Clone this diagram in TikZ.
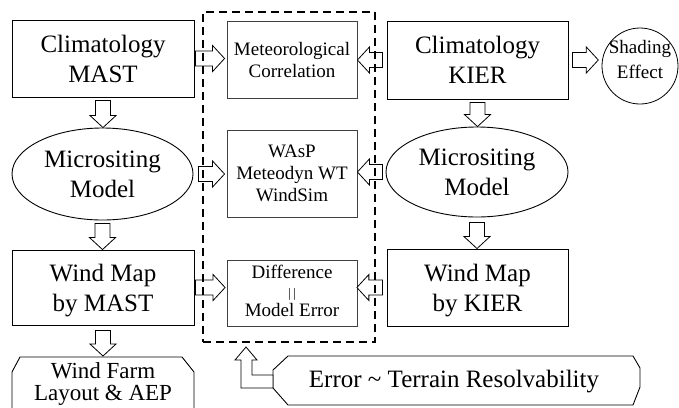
\documentclass[tikz,border=0pt]{standalone}
\usepackage{fontspec}
\setmainfont{Liberation Serif}
\usetikzlibrary{calc,shapes.geometric}
\tikzset{
  box/.style={draw, line width=0.9pt, inner sep=0pt, align=center},
  midbox/.style={box, draw=black!75},
  ell/.style={draw, ellipse, line width=0.9pt, inner sep=0pt, align=center},
  bigtxt/.style={font=\fontsize{25}{30}\selectfont},
  smalltxt/.style={font=\fontsize{19}{22}\selectfont},
  arr/.style={draw=black, fill=white, line width=0.8pt, line join=miter},
  grpbox/.style={draw, line width=2.4pt, dash pattern=on 8pt off 5pt, inner sep=0pt},
  outline/.style={draw, line width=0.9pt, line join=miter}
}
\newcommand{\barr}[3]{\draw[arr] let \p1=#1, \p2=#2, \n1={veclen(\x2-\x1,\y2-\y1)} in
  [shift={(\p1)}, rotate=#3] (0,-7.5) -- ({\n1-12},-7.5) -- ({\n1-12},-13) -- (\n1,0)
  -- ({\n1-12},13) -- ({\n1-12},7.5) -- (0,7.5) -- cycle;}
\begin{document}
\begin{tikzpicture}[x=1pt,y=-1pt]
\useasboundingbox (0,0) rectangle (679,407);
\clip (0,0) rectangle (679,407);
% left column
\node[box, bigtxt, minimum width=182, minimum height=77] (clmast) at (103,58.5) {Climatology\\MAST};
\node[ell, bigtxt, minimum width=181, minimum height=92] (mmast) at (102.5,174) {Micrositing\\Model};
\node[box, minimum width=182, minimum height=75] (wmmast) at (103,287.5) {};
\node[bigtxt, align=center] (wmmasttxt) at (103,291) {Wind Map\\by MAST};
\draw[outline] (12,420) -- (12,372) -- (20,357) -- (182,357) -- (194,372) -- (194,420);
\coordinate (wftop) at (103,356);
\node[align=center, font=\fontsize{23}{22}\selectfont] (wf) at (103,383.5) {Wind Farm\\Layout \& AEP};
% middle column
\node[midbox, smalltxt, minimum width=130, minimum height=77] (met) at (292,59.5) {Meteorological\\Correlation};
\node[midbox, smalltxt, minimum width=130, minimum height=87] (wasp) at (292,173.5) {WAsP\\Meteodyn WT\\WindSim};
\node[midbox, minimum width=130, minimum height=66] (diff) at (292,293) {};
\node[align=center, font=\fontsize{19}{19}\selectfont] (difftxt) at (292,291) {Difference\\{\fontsize{13}{13}\selectfont|\hspace{2.5pt}|}\\Model Error};
% right column
\node[box, bigtxt, minimum width=181, minimum height=78] (clkier) at (477.5,60) {Climatology\\KIER};
\node[ell, bigtxt, minimum width=182, minimum height=90] (mkier) at (477,172) {Micrositing\\Model};
\node[box, minimum width=181, minimum height=77] (wmkier) at (477.5,287.5) {};
\node[bigtxt, align=center] (wmkiertxt) at (477.5,291) {Wind Map\\by KIER};
\node[draw, circle, line width=0.8pt, minimum size=76, inner sep=0pt] (shade) at (640,66) {};
\node[align=center, font=\fontsize{19}{25}\selectfont] (shadetxt) at (640,59) {Shading\\Effect};
% bottom error shape
\draw[outline] (288,356) -- (633,356) -- (640,368) -- (640,387) -- (633,405) -- (288,405) -- (273,388) -- (273,370) -- cycle;
\node[font=\fontsize{25}{30}\selectfont] (err) at (454,382) {Error \textasciitilde{} Terrain Resolvability};
% block arrows
\barr{($(clmast.south)+(0,3)$)}{(mmast.north)}{-90}
\barr{($(mmast.south)+(0,3)$)}{(wmmast.north)}{-90}
\barr{($(wmmast.south)+(0,5)$)}{(wftop)}{-90}
\barr{($(clkier.south)+(0,3)$)}{(mkier.north)}{-90}
\barr{($(mkier.south)+(0,5)$)}{(wmkier.north)}{-90}
\barr{($(clmast.east)+(1,0)$)}{($(met.west)+(-2,0)$)}{0}
\barr{($(mmast.east)+(5,0)$)}{($(wasp.west)+(-2,0)$)}{0}
\barr{($(wmmast.east)+(1,0)$)}{($(diff.west)+(-2,0)$)}{0}
\barr{($(clkier.west)+(-4,0)$)}{(met.east)}{180}
\barr{($(mkier.west)+(-3,0)$)}{(wasp.east)}{180}
\barr{($(wmkier.west)+(-4,0)$)}{(diff.east)}{180}
\barr{($(clkier.east)+(4,0)$)}{($(shade.west)+(-4,0)$)}{0}
% L-shaped arrow from error box to group
\draw[arr] (273,375) -- (252,375) -- (252,360) -- (257,360) -- (246,347) -- (235,360) -- (241,360) -- (241,388) -- (273,388) -- cycle;
% dashed group
\node[grpbox, minimum width=172, minimum height=330] (grp) at (289,177) {};
\end{tikzpicture}
\end{document}
